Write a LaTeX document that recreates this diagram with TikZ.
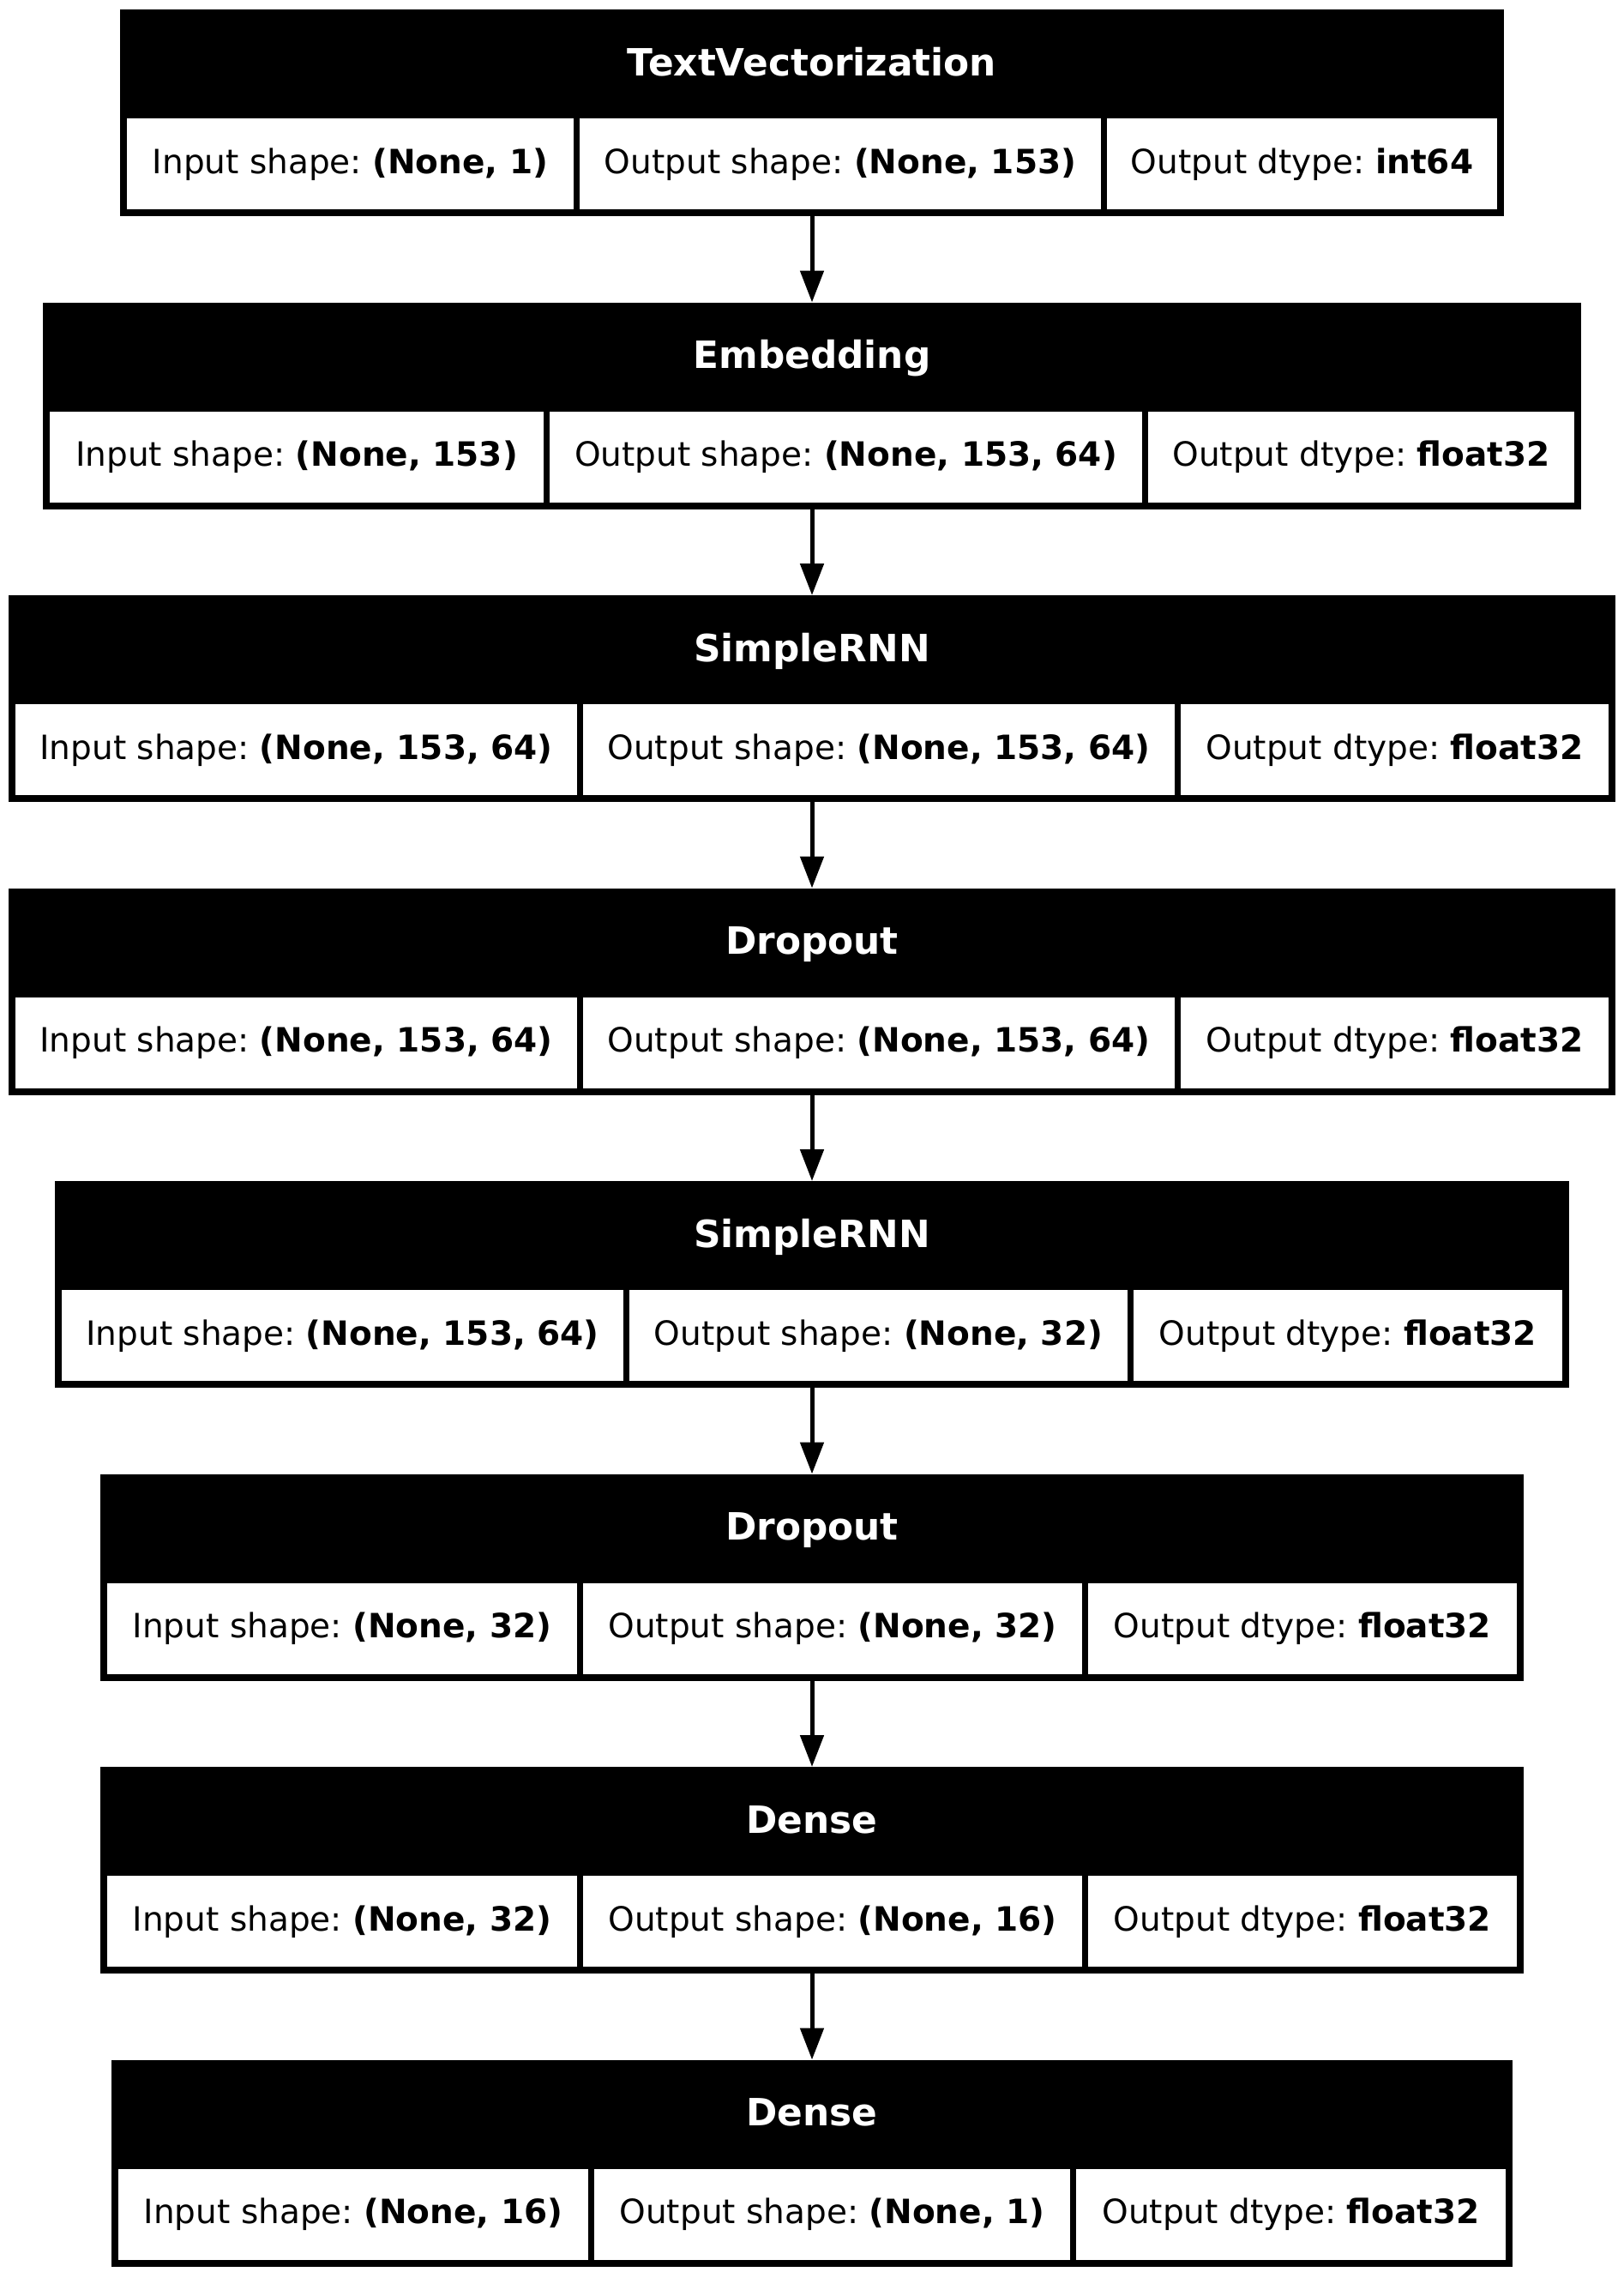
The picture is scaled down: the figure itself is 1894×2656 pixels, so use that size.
\documentclass[tikz,border=0pt]{standalone}
\usepackage{fontspec}
\setmainfont{DejaVu Sans}
\frenchspacing
\usetikzlibrary{fit,arrows.meta}
\tikzset{
  blk/.style={fill=black, draw=none, inner sep=0pt, outer sep=0pt},
  cellbox/.style={fill=white, draw=none, inner sep=0pt, outer sep=0pt},
  ttl/.style={text=white, font=\fontsize{21.9}{25}\selectfont\bfseries, anchor=base, inner sep=0pt},
  lbl/.style={text=black, font=\fontsize{19.5}{23}\selectfont, anchor=base, inner sep=0pt},
  flow/.style={line width=2.5pt, -{Triangle[width=13.5pt,length=18.5pt]}}
}
% #1 index, #2 left edge, #3 first divider, #4 second divider, #5 title, #6-#8 cell texts
\newcommand\layerbox[8]{%
  \pgfmathsetmacro\T{11+341.5*#1}
  \pgfmathsetmacro\B{\T+241}
  \pgfmathsetmacro\R{1894-#2}
  \pgfmathsetmacro\CT{\T+127}
  \pgfmathsetmacro\CB{\T+233}
  \pgfmathsetmacro\TB{\T+77}
  \pgfmathsetmacro\LB{\T+191}
  \pgfmathsetmacro\xa{#2+8}
  \pgfmathsetmacro\xb{#3+7}
  \pgfmathsetmacro\xc{#4+7}
  \pgfmathsetmacro\xd{\R-8}
  \pgfmathsetmacro\ma{(\xa+#3)/2}
  \pgfmathsetmacro\mb{(\xb+#4)/2}
  \pgfmathsetmacro\mc{(\xc+\xd)/2}
  \node[blk, fit={(#2,\T) (\R,\B)}] (b#1) {};
  \node[cellbox, fit={(\xa,\CT) (#3,\CB)}] (b#1c1) {};
  \node[cellbox, fit={(\xb,\CT) (#4,\CB)}] (b#1c2) {};
  \node[cellbox, fit={(\xc,\CT) (\xd,\CB)}] (b#1c3) {};
  \node[ttl] (b#1t) at (947,\TB) {#5};
  \node[lbl] (b#1l1) at (\ma,\LB) {#6};
  \node[lbl] (b#1l2) at (\mb,\LB) {#7};
  \node[lbl] (b#1l3) at (\mc,\LB) {#8};
}
\begin{document}
\begin{tikzpicture}[x=0.5pt, y=-0.5pt]
  \fill[white] (0,0) rectangle (1894,2656);
  \useasboundingbox (0,0) rectangle (1894,2656);
  \layerbox{0}{140}{669}{1284}{TextVectorization}
    {Input shape: \textbf{(None, 1)}}{Output shape: \textbf{(None, 153)}}{Output dtype: \textbf{int64}}
  \layerbox{1}{50}{634}{1332}{Embedding}
    {Input shape: \textbf{(None, 153)}}{Output shape: \textbf{(None, 153, 64)}}{Output dtype: \textbf{float32}}
  \layerbox{2}{10}{673}{1370}{SimpleRNN}
    {Input shape: \textbf{(None, 153, 64)}}{Output shape: \textbf{(None, 153, 64)}}{Output dtype: \textbf{float32}}
  \layerbox{3}{10}{673}{1370}{Dropout}
    {Input shape: \textbf{(None, 153, 64)}}{Output shape: \textbf{(None, 153, 64)}}{Output dtype: \textbf{float32}}
  \layerbox{4}{64}{727}{1315}{SimpleRNN}
    {Input shape: \textbf{(None, 153, 64)}}{Output shape: \textbf{(None, 32)}}{Output dtype: \textbf{float32}}
  \layerbox{5}{117}{673}{1262}{Dropout}
    {Input shape: \textbf{(None, 32)}}{Output shape: \textbf{(None, 32)}}{Output dtype: \textbf{float32}}
  \layerbox{6}{117}{673}{1262}{Dense}
    {Input shape: \textbf{(None, 32)}}{Output shape: \textbf{(None, 16)}}{Output dtype: \textbf{float32}}
  \layerbox{7}{130}{686}{1248}{Dense}
    {Input shape: \textbf{(None, 16)}}{Output shape: \textbf{(None, 1)}}{Output dtype: \textbf{float32}}
  \draw[flow] (b0.south) -- (b1.north);
  \draw[flow] (b1.south) -- (b2.north);
  \draw[flow] (b2.south) -- (b3.north);
  \draw[flow] (b3.south) -- (b4.north);
  \draw[flow] (b4.south) -- (b5.north);
  \draw[flow] (b5.south) -- (b6.north);
  \draw[flow] (b6.south) -- (b7.north);
\end{tikzpicture}
\end{document}
